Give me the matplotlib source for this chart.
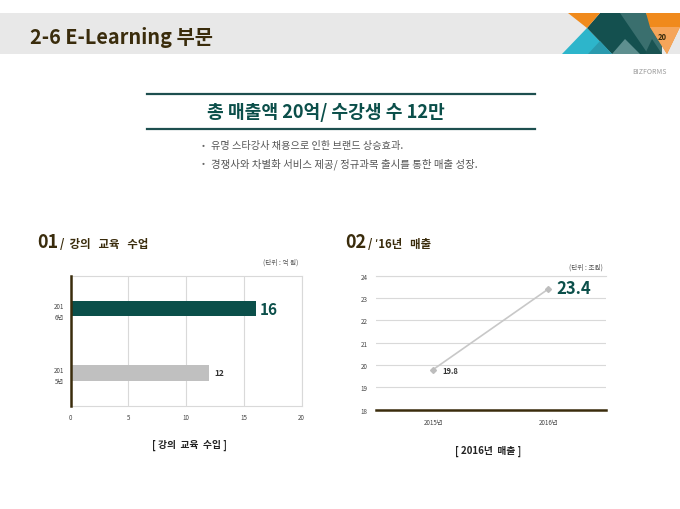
import matplotlib
matplotlib.use("Agg")
import matplotlib.pyplot as plt
from matplotlib.patches import Polygon, Rectangle

plt.rcParams['font.family'] = ['Noto Sans CJK KR', 'DejaVu Sans']

# ---- data ----
bar_categories = ['201\n5년', '201\n6년']
bar_values = [12, 16]
bar_xticks = [0, 5, 10, 15, 20]

line_categories = ['2015년', '2016년']
line_values = [19.8, 23.4]
line_yticks = [18, 19, 20, 21, 22, 23, 24]

TEAL = '#0b4f4a'
BROWN = '#3a2c0c'
W, H = 680, 510

fig = plt.figure(figsize=(6.8, 5.1), dpi=100)
bg = fig.add_axes([0, 0, 1, 1])
bg.set_xlim(0, W)
bg.set_ylim(H, 0)
bg.axis('off')

# header band
bg.add_patch(Rectangle((0, 14), W, 41, color='#e8e8e8', lw=0))
# decoration (approximate geometric logo)
bg.add_patch(Polygon([(562, 55), (587, 29), (612, 55)], color='#2db5cb', lw=0))
bg.add_patch(Polygon([(587, 29), (600, 14), (627, 14), (650, 55), (612, 55)], color='#14504f', lw=0))
bg.add_patch(Polygon([(588, 55), (600, 42), (612, 55)], color='#2a9aae', lw=0))
bg.add_patch(Polygon([(612, 55), (625, 40), (640, 55)], color='#5e8f8f', lw=0))
bg.add_patch(Polygon([(620, 14), (646, 14), (662, 40), (662, 55), (648, 55)], color='#3a6f6e', lw=0))
bg.add_patch(Polygon([(568, 14), (600, 14), (587, 29)], color='#f08a1c', lw=0))
bg.add_patch(Polygon([(646, 14), (680, 14), (680, 28), (667, 55), (650, 28)], color='#f08a1c', lw=0))
bg.add_patch(Polygon([(650, 28), (680, 28), (667, 55)], color='#f5a55a', lw=0))
bg.add_patch(Polygon([(652, 40), (662, 55), (645, 55)], color='#1a5352', lw=0))
bg.text(662, 38, '20', fontsize=5.5, color=BROWN, ha='center', va='center', fontweight='bold')

bg.text(30, 38, '2-6 E-Learning 부문', fontsize=14.3, fontweight='bold', color=BROWN,
        ha='left', va='center')
bg.text(667, 72, 'BIZFORMS', fontsize=5, color='#999999', ha='right', va='center')

# headline box
bg.plot([147, 535], [95, 95], color='#1d4f4f', lw=1.6)
bg.plot([147, 535], [130, 130], color='#1d4f4f', lw=1.6)
bg.text(326, 113, '총 매출액 20억/ 수강생 수 12만', fontsize=13.1, fontweight='bold', color=TEAL,
        ha='center', va='center')
bg.text(203, 146, '•', fontsize=6.5, color='#666666', ha='center', va='center')
bg.text(203, 164, '•', fontsize=6.5, color='#666666', ha='center', va='center')
bg.text(211, 146, '유명 스타강사 채용으로 인한 브랜드 상승효과.', fontsize=7.3, color='#555555',
        ha='left', va='center')
bg.text(211, 164, '경쟁사와 차별화 서비스 제공/ 정규과목 출시를 통한 매출 성장.', fontsize=7.5,
        color='#555555', ha='left', va='center')

# chart titles
bg.text(37, 243, '01', fontsize=13, fontweight='bold', color=BROWN, ha='left', va='center')
bg.text(60, 245, '/  강의   교육   수업', fontsize=8.2, fontweight='bold', color=BROWN, ha='left', va='center')
bg.text(345, 243, '02', fontsize=13, fontweight='bold', color=BROWN, ha='left', va='center')
bg.text(368, 245, "/ \u02b916년   매출", fontsize=8.2, fontweight='bold', color=BROWN, ha='left', va='center')

bg.text(298, 263, '(단위 : 억 원)', fontsize=4.8, color='#555555', ha='right', va='center')
bg.text(603, 268, '(단위 : 조원)', fontsize=4.8, color='#555555', ha='right', va='center')

bg.text(189, 445, '[ 강의  교육  수입 ]', fontsize=7, fontweight='bold', color='#222222', ha='center', va='center')
bg.text(488, 451, '[ 2016년  매출 ]', fontsize=7, fontweight='bold', color='#222222', ha='center', va='center')

# ---- chart 1: horizontal bars ----
ax1 = fig.add_axes([70.7 / W, 1 - 407.3 / H, 231 / W, 130.6 / H])
ypos = list(range(len(bar_categories)))
ax1.barh(ypos, bar_values, height=0.24, color=['#c0c0c0', TEAL], zorder=3)
ax1.set_xlim(0, 20)
ax1.set_ylim(-0.52, 1.51)
ax1.set_xticks(bar_xticks)
ax1.set_xticklabels([str(t) for t in bar_xticks])
ax1.set_yticks(ypos)
ax1.set_yticklabels(bar_categories, linespacing=1.6)
ax1.tick_params(axis='both', length=0, labelsize=4.5, labelcolor='#444444')
ax1.tick_params(axis='x', pad=5)
ax1.tick_params(axis='y', pad=5)
ax1.grid(axis='x', color='#d9d9d9', lw=0.8, zorder=0)
for s in ['top', 'right', 'bottom']:
    ax1.spines[s].set_color('#d9d9d9')
    ax1.spines[s].set_linewidth(0.8)
ax1.spines['left'].set_color(BROWN)
ax1.spines['left'].set_linewidth(1.8)
ax1.spines['left'].set_zorder(4)
ax1.text(bar_values[1] + 0.4, ypos[1], str(bar_values[1]), fontsize=11, fontweight='bold',
         color=TEAL, ha='left', va='center')
ax1.text(bar_values[0] + 0.4, ypos[0], str(bar_values[0]), fontsize=6, fontweight='bold',
         color='#333333', ha='left', va='center')

# ---- chart 2: line ----
ax2 = fig.add_axes([375.7 / W, 1 - 410.7 / H, 230 / W, 134 / H])
xpos = list(range(len(line_categories)))
ax2.plot(xpos, line_values, color='#c8c8c8', lw=1.2, marker='D', markersize=3,
         markerfacecolor='#bdbdbd', markeredgecolor='#bdbdbd', zorder=3)
ax2.set_xlim(-0.5, 1.5)
ax2.set_ylim(18, 24)
ax2.set_yticks(line_yticks)
ax2.set_yticklabels([str(t) for t in line_yticks])
ax2.set_xticks(xpos)
ax2.set_xticklabels(line_categories)
ax2.tick_params(axis='both', length=0, labelsize=4.5, labelcolor='#444444')
ax2.tick_params(axis='x', pad=6)
ax2.tick_params(axis='y', pad=6)
ax2.grid(axis='y', color='#d9d9d9', lw=0.8, zorder=0)
for s in ['left', 'right']:
    ax2.spines[s].set_visible(False)
ax2.spines['top'].set_color('#d9d9d9')
ax2.spines['top'].set_linewidth(0.8)
ax2.spines['bottom'].set_color(BROWN)
ax2.spines['bottom'].set_linewidth(1.8)
ax2.text(xpos[0] + 0.08, line_values[0] - 0.05, str(line_values[0]), fontsize=5.5,
         fontweight='bold', color='#333333', ha='left', va='center')
ax2.text(xpos[1] + 0.07, line_values[1] + 0.05, str(line_values[1]), fontsize=12,
         fontweight='bold', color=TEAL, ha='left', va='center')

fig.savefig('out.png', dpi=100)
